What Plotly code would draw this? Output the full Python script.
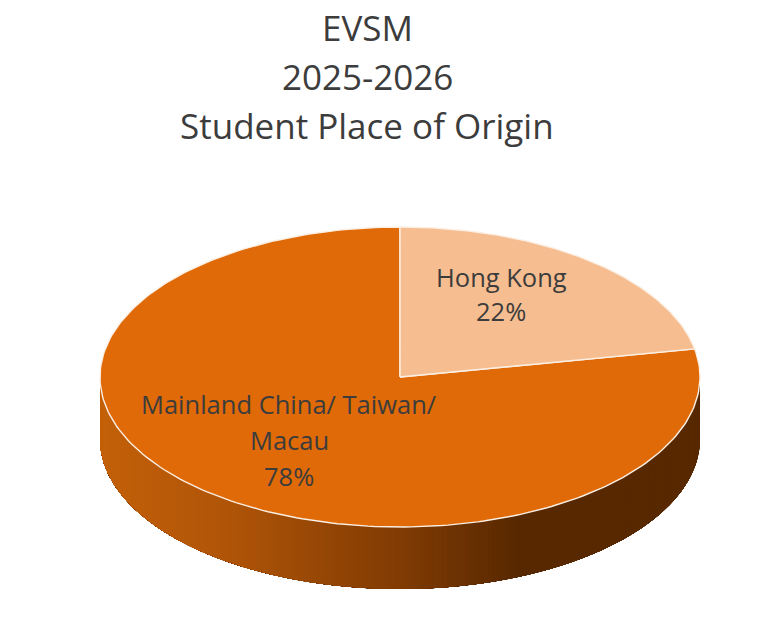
import numpy as np
import plotly.graph_objects as go

title_lines = ["EVSM", "2025-2026", "Student Place of Origin"]
title_y = [27, 76, 125]
categories = [["Hong Kong"], ["Mainland China/ Taiwan/", "Macau"]]
shares = [22, 78]
slice_colors = ["#F6BE90", "#E06A08"]
side_stops_x = [100, 230, 400, 520, 700]
side_stops_rgb = [(196, 97, 10), (176, 85, 8), (130, 60, 4), (88, 41, 1), (88, 41, 1)]
label_pos = [(501, 277), (289, 404)]
label_steps = [34, 36]

CX, CY, RX, RY, DEPTH = 400, 377, 300, 150, 62
TEXT = "#3C3C3C"
FONT = "Open Sans"


def ell(t):
    return CX + RX * np.sin(t), CY - RY * np.cos(t)


fig = go.Figure()

# Side wall: painted right to left, each strip reaching the far left edge, so no seams show
edges = np.linspace(np.pi / 2, 3 * np.pi / 2, 201)
for a in edges[:-1]:
    t = np.linspace(a, 3 * np.pi / 2, 200)
    x, y = ell(t)
    px = np.concatenate([x, x[::-1]])
    py = np.concatenate([y, y[::-1] + DEPTH])
    rgb = [np.interp(x[0], side_stops_x, [c[i] for c in side_stops_rgb]) for i in range(3)]
    col = "rgb(%d,%d,%d)" % tuple(rgb)
    fig.add_trace(go.Scatter(x=px, y=py, mode="lines", fill="toself", fillcolor=col,
                             line=dict(color=col, width=0), hoverinfo="skip", showlegend=False))

# Top face slices, clockwise from 12 o'clock
cum = np.cumsum([0] + shares) / sum(shares) * 2 * np.pi
for i in [1, 0]:
    t = np.linspace(cum[i], cum[i + 1], 240)
    x, y = ell(t)
    fig.add_trace(go.Scatter(x=np.r_[CX, x, CX], y=np.r_[CY, y, CY], mode="lines", fill="toself",
                             fillcolor=slice_colors[i], line=dict(color="#FBEFE4", width=1.4),
                             name=" ".join(categories[i]), hoverinfo="name", showlegend=False))

annotations = [
    dict(x=367, y=yy, text=line, showarrow=False, xref="x", yref="y",
         font=dict(family=FONT, size=35, color=TEXT))
    for line, yy in zip(title_lines, title_y)
]
for cat, val, (lx, ly), step in zip(categories, shares, label_pos, label_steps):
    for k, line in enumerate(cat + [f"{val}%"]):
        annotations.append(dict(x=lx, y=ly + k * step, text=line, showarrow=False,
                                xref="x", yref="y",
                                font=dict(family=FONT, size=25.5, color=TEXT)))

fig.update_layout(
    width=782, height=641, margin=dict(l=0, r=0, t=0, b=0),
    paper_bgcolor="white", plot_bgcolor="white", showlegend=False,
    xaxis=dict(range=[0, 782], visible=False, fixedrange=True),
    yaxis=dict(range=[641, 0], visible=False, fixedrange=True),
    annotations=annotations,
)
fig.write_html("out.html", config={"displayModeBar": False},
               post_script="document.body.style.margin='0';document.documentElement.style.overflow='hidden';")
